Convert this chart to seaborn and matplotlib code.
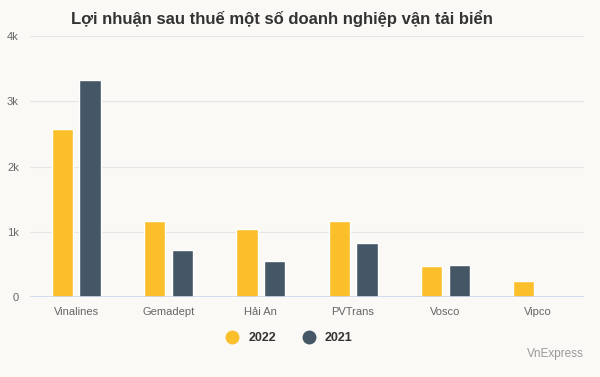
import numpy as np
import pandas as pd
import matplotlib
matplotlib.use("Agg")
from matplotlib import pyplot as plt
from matplotlib.lines import Line2D
import seaborn as sns

companies = ["Vinalines", "Gemadept", "Hải An", "PVTrans", "Vosco", "Vipco"]
profit_2022 = [2570, 1160, 1040, 1160, 480, 240]
profit_2021 = [3330, 720, 550, 830, 490, np.nan]
years = ["2022", "2021"]
colors = {"2022": "#FBBF2C", "2021": "#455766"}
yticks = [0, 1000, 2000, 3000, 4000]
ytick_labels = ["0", "1k", "2k", "3k", "4k"]

df = pd.DataFrame({
    "company": companies * 2,
    "year": ["2022"] * len(companies) + ["2021"] * len(companies),
    "value": profit_2022 + profit_2021,
})

bg = "#FAF9F6"
sns.set_style("white")
plt.rcParams["font.family"] = ["Liberation Sans", "DejaVu Sans"]

fig = plt.figure(figsize=(6, 3.77), dpi=100, facecolor=bg)
ax = fig.add_axes([0.05, 0.212, 0.923, 0.6925])
ax.set_facecolor(bg)

sns.barplot(data=df, x="company", y="value", hue="year", hue_order=years,
            palette=colors, width=0.6, gap=0.23, saturation=1, ax=ax,
            legend=False, errorbar=None)

ax.set_ylim(0, 4000)
ax.set_xlim(-0.5, 5.5)
ax.set_yticks(yticks)
ax.set_yticklabels(ytick_labels)
ax.grid(axis="y", color="#E6E6E6", linewidth=0.8)
ax.set_axisbelow(True)
ax.axhline(0, color="#CCD6EB", linewidth=1.2, zorder=3)
for s in ax.spines.values():
    s.set_visible(False)
ax.tick_params(axis="both", length=0, labelsize=8, labelcolor="#666666")
ax.tick_params(axis="x", pad=7)
ax.tick_params(axis="y", pad=8)
ax.set_xlabel("")
ax.set_ylabel("")

fig.text(0.47, 0.952, "Lợi nhuận sau thuế một số doanh nghiệp vận tải biển",
         ha="center", va="center", fontsize=12, fontweight="bold", color="#333333")

handles = [Line2D([0], [0], marker="o", linestyle="", markersize=9,
                  markerfacecolor=colors[y], markeredgecolor=colors[y]) for y in years]
fig.legend(handles, years, loc="center", bbox_to_anchor=(0.477, 0.103), ncol=2,
           frameon=False, handletextpad=0.3, columnspacing=1.6,
           prop={"weight": "bold", "size": 9}, labelcolor="#333333")

fig.text(0.973, 0.061, "VnExpress", ha="right", va="center", fontsize=8.5, color="#999999")

fig.savefig("out.png", dpi=100, facecolor=bg)
